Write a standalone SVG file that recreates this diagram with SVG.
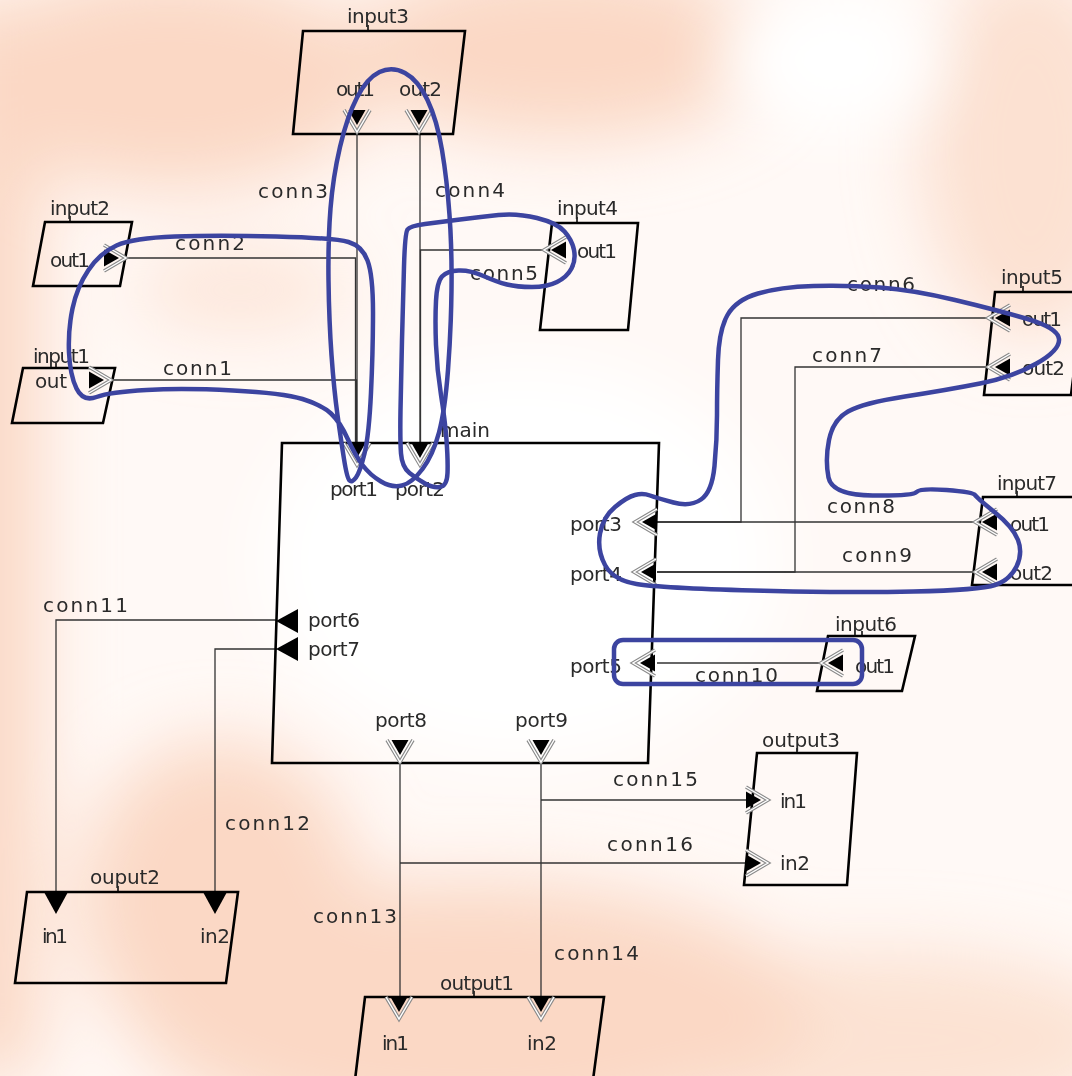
<svg xmlns="http://www.w3.org/2000/svg" xmlns:xlink="http://www.w3.org/1999/xlink" width="1072" height="1076" viewBox="0 0 1072 1076">
<defs>
<filter id="blur" x="-50%" y="-50%" width="200%" height="200%"><feGaussianBlur stdDeviation="35"/></filter>
<g id="pd">
<polyline points="-13,0 0,22 13,0" fill="none" stroke="#8a8a8a" stroke-width="3.6"/>
<polyline points="-13,0 0,22 13,0" fill="none" stroke="#ffffff" stroke-width="1.4"/>
<polygon points="-8.5,0 8.5,0 0,15" fill="#000"/>
</g>
<polygon id="ps" points="-12,0 12,0 0,22" fill="#000"/>
<style>
.box{fill:none;stroke:#000;stroke-width:2.6;stroke-linejoin:miter}
.tick{stroke:#000;stroke-width:1.5}
.lbl{font-family:"DejaVu Sans","Liberation Sans",sans-serif;font-size:20px;fill:#2a2a2a}
.wire{fill:none;stroke:#333;stroke-width:1.3}
.ink{fill:none;stroke:#3c44a0;stroke-width:4.5;stroke-linecap:round;stroke-linejoin:round}
</style>
</defs>

<g id="background">
<rect width="1072" height="1076" fill="#fff9f6"/>
<g filter="url(#blur)" fill="#fbd8c5">
<ellipse cx="170" cy="80" rx="210" ry="110"/>
<ellipse cx="560" cy="50" rx="210" ry="90"/>
<ellipse cx="1030" cy="150" rx="110" ry="190" opacity="0.75"/>
<rect x="-60" y="0" width="100" height="1076"/>
<ellipse cx="470" cy="1010" rx="340" ry="130"/>
<ellipse cx="880" cy="1040" rx="260" ry="90" opacity="0.7"/>
<ellipse cx="220" cy="900" rx="140" ry="160"/>
<ellipse cx="240" cy="290" rx="110" ry="40" opacity="0.6"/>
</g>
<g filter="url(#blur)" fill="#ffffff">
<ellipse cx="830" cy="60" rx="110" ry="70"/>
<ellipse cx="520" cy="560" rx="260" ry="200"/>
</g>
</g>

<g id="connectors">
<path id="conn1" class="wire" d="M112,380 H356.5 V443"/>
<path id="conn2" class="wire" d="M126,258 H355.5 V443"/>
<path id="conn3" class="wire" d="M357,134 V443"/>
<path id="conn4" class="wire" d="M420,134 V443"/>
<path id="conn5" class="wire" d="M544,250 H420.5 V443"/>
<path id="conn6" class="wire" d="M988,318 H741 V522 H657"/>
<path id="conn7" class="wire" d="M988,367 H795 V572 H657"/>
<path id="conn8" class="wire" d="M975,522 H657"/>
<path id="conn9" class="wire" d="M975,572 H657"/>
<path id="conn10" class="wire" d="M821,663 H657"/>
<path id="conn11" class="wire" d="M277,620 H56 V892"/>
<path id="conn12" class="wire" d="M277,649 H215 V892"/>
<path id="conn13" class="wire" d="M400,763 V997"/>
<path id="conn14" class="wire" d="M541,763 V997"/>
<path id="conn15" class="wire" d="M541,800 H746"/>
<path id="conn16" class="wire" d="M400,863 H746"/>
<text class="lbl" x="163" y="375" textLength="69" lengthAdjust="spacing">conn1</text>
<text class="lbl" x="175" y="250" textLength="70" lengthAdjust="spacing">conn2</text>
<text class="lbl" x="258" y="198" textLength="70" lengthAdjust="spacing">conn3</text>
<text class="lbl" x="435" y="197" textLength="70" lengthAdjust="spacing">conn4</text>
<text class="lbl" x="470" y="280" textLength="68" lengthAdjust="spacing">conn5</text>
<text class="lbl" x="847" y="291" textLength="68" lengthAdjust="spacing">conn6</text>
<text class="lbl" x="812" y="362" textLength="70" lengthAdjust="spacing">conn7</text>
<text class="lbl" x="827" y="513" textLength="68" lengthAdjust="spacing">conn8</text>
<text class="lbl" x="842" y="562" textLength="70" lengthAdjust="spacing">conn9</text>
<text class="lbl" x="695" y="682" textLength="83" lengthAdjust="spacing">conn10</text>
<text class="lbl" x="43" y="612" textLength="85" lengthAdjust="spacing">conn11</text>
<text class="lbl" x="225" y="830" textLength="85" lengthAdjust="spacing">conn12</text>
<text class="lbl" x="313" y="923" textLength="84" lengthAdjust="spacing">conn13</text>
<text class="lbl" x="554" y="960" textLength="85" lengthAdjust="spacing">conn14</text>
<text class="lbl" x="613" y="786" textLength="85" lengthAdjust="spacing">conn15</text>
<text class="lbl" x="607" y="851" textLength="86" lengthAdjust="spacing">conn16</text>
</g>

<g id="input3">
<polygon class="box" points="303,31 465,31 453,134 293,134"/>
<line class="tick" x1="368" y1="25" x2="368" y2="31"/>
<text class="lbl" x="347" y="23" textLength="62" lengthAdjust="spacing">input3</text>
<text class="lbl" x="336" y="96" textLength="39" lengthAdjust="spacing">out1</text>
<text class="lbl" x="399" y="96" textLength="43" lengthAdjust="spacing">out2</text>
<use xlink:href="#pd" transform="translate(357,110)"/>
<use xlink:href="#pd" transform="translate(419,110)"/>
</g>

<g id="input2">
<polygon class="box" points="45,222 132,222 120,286 33,286"/>
<line class="tick" x1="70" y1="216" x2="70" y2="222"/>
<text class="lbl" x="50" y="215" textLength="60" lengthAdjust="spacing">input2</text>
<text class="lbl" x="50" y="267" textLength="40" lengthAdjust="spacing">out1</text>
<use xlink:href="#pd" transform="translate(104,258) rotate(-90)"/>
</g>

<g id="input1">
<polygon class="box" points="23,368 115,368 103,423 12,423"/>
<line class="tick" x1="56" y1="363" x2="56" y2="368"/>
<text class="lbl" x="33" y="363" textLength="57" lengthAdjust="spacing">input1</text>
<text class="lbl" x="35" y="388" textLength="32" lengthAdjust="spacing">out</text>
<use xlink:href="#pd" transform="translate(89,380) rotate(-90)"/>
</g>

<g id="input4">
<polygon class="box" points="552,223 638,223 628,330 540,330"/>
<line class="tick" x1="577" y1="217" x2="577" y2="223"/>
<text class="lbl" x="557" y="215" textLength="61" lengthAdjust="spacing">input4</text>
<text class="lbl" x="577" y="258" textLength="40" lengthAdjust="spacing">out1</text>
<use xlink:href="#pd" transform="translate(566,250) rotate(90)"/>
</g>

<g id="input5">
<polygon class="box" points="995,292 1084,292 1071,395 984,395"/>
<line class="tick" x1="1023" y1="286" x2="1023" y2="292"/>
<text class="lbl" x="1001" y="284" textLength="62" lengthAdjust="spacing">input5</text>
<text class="lbl" x="1022" y="326" textLength="40" lengthAdjust="spacing">out1</text>
<text class="lbl" x="1022" y="375" textLength="43" lengthAdjust="spacing">out2</text>
<use xlink:href="#pd" transform="translate(1010,318) rotate(90)"/>
<use xlink:href="#pd" transform="translate(1010,367) rotate(90)"/>
</g>

<g id="input7">
<polygon class="box" points="983,497 1086,497 1076,585 972,585"/>
<line class="tick" x1="1017" y1="491" x2="1017" y2="497"/>
<text class="lbl" x="997" y="490" textLength="60" lengthAdjust="spacing">input7</text>
<text class="lbl" x="1010" y="531" textLength="40" lengthAdjust="spacing">out1</text>
<text class="lbl" x="1010" y="580" textLength="43" lengthAdjust="spacing">out2</text>
<use xlink:href="#pd" transform="translate(997,522) rotate(90)"/>
<use xlink:href="#pd" transform="translate(997,572) rotate(90)"/>
</g>

<g id="input6">
<polygon class="box" points="828,636 915,636 902,691 817,691"/>
<line class="tick" x1="862" y1="631" x2="862" y2="636"/>
<text class="lbl" x="835" y="631" textLength="62" lengthAdjust="spacing">input6</text>
<text class="lbl" x="855" y="673" textLength="40" lengthAdjust="spacing">out1</text>
<use xlink:href="#pd" transform="translate(843,663) rotate(90)"/>
</g>

<g id="main">
<polygon class="box" points="282,443 659,443 648,763 272,763"/>
<text class="lbl" x="440" y="437" textLength="50" lengthAdjust="spacing">main</text>
<use xlink:href="#pd" transform="translate(357,443)"/>
<use xlink:href="#pd" transform="translate(420,443)"/>
<text class="lbl" x="330" y="496" textLength="48" lengthAdjust="spacing">port1</text>
<text class="lbl" x="395" y="496" textLength="50" lengthAdjust="spacing">port2</text>
<use xlink:href="#pd" transform="translate(657,522) rotate(90)"/>
<use xlink:href="#pd" transform="translate(656,572) rotate(90)"/>
<use xlink:href="#pd" transform="translate(655,663) rotate(90)"/>
<text class="lbl" x="570" y="531" textLength="52" lengthAdjust="spacing">port3</text>
<text class="lbl" x="570" y="581" textLength="52" lengthAdjust="spacing">port4</text>
<text class="lbl" x="570" y="673" textLength="52" lengthAdjust="spacing">port5</text>
<use xlink:href="#ps" transform="translate(298,621) rotate(90)"/>
<use xlink:href="#ps" transform="translate(298,649) rotate(90)"/>
<text class="lbl" x="308" y="627" textLength="52" lengthAdjust="spacing">port6</text>
<text class="lbl" x="308" y="656" textLength="52" lengthAdjust="spacing">port7</text>
<use xlink:href="#pd" transform="translate(400,740)"/>
<use xlink:href="#pd" transform="translate(541,740)"/>
<text class="lbl" x="375" y="727" textLength="52" lengthAdjust="spacing">port8</text>
<text class="lbl" x="515" y="727" textLength="53" lengthAdjust="spacing">port9</text>
</g>

<g id="ouput2">
<polygon class="box" points="27,892 238,892 226,983 15,983"/>
<line class="tick" x1="118" y1="886" x2="118" y2="892"/>
<text class="lbl" x="90" y="884" textLength="70" lengthAdjust="spacing">ouput2</text>
<use xlink:href="#ps" transform="translate(56,892)"/>
<use xlink:href="#ps" transform="translate(215,892)"/>
<text class="lbl" x="42" y="943" textLength="26" lengthAdjust="spacing">in1</text>
<text class="lbl" x="200" y="943" textLength="30" lengthAdjust="spacing">in2</text>
</g>

<g id="output1">
<polygon class="box" points="365,997 604,997 593,1080 355,1080"/>
<line class="tick" x1="474" y1="991" x2="474" y2="997"/>
<text class="lbl" x="440" y="990" textLength="74" lengthAdjust="spacing">output1</text>
<use xlink:href="#pd" transform="translate(399,997)"/>
<use xlink:href="#pd" transform="translate(541,997)"/>
<text class="lbl" x="382" y="1050" textLength="27" lengthAdjust="spacing">in1</text>
<text class="lbl" x="527" y="1050" textLength="30" lengthAdjust="spacing">in2</text>
</g>

<g id="output3">
<polygon class="box" points="757,753 857,753 847,885 744,885"/>
<line class="tick" x1="797" y1="748" x2="797" y2="753"/>
<text class="lbl" x="762" y="747" textLength="78" lengthAdjust="spacing">output3</text>
<use xlink:href="#pd" transform="translate(746,800) rotate(-90)"/>
<use xlink:href="#pd" transform="translate(746,863) rotate(-90)"/>
<text class="lbl" x="780" y="808" textLength="27" lengthAdjust="spacing">in1</text>
<text class="lbl" x="780" y="870" textLength="30" lengthAdjust="spacing">in2</text>
</g>

<g id="annotations">
<path class="ink" d="M76.5,388.5 Q83,402 96.5,397 Q110,392 146.5,390 Q183,388 233,390.5 Q283,393 302.5,399 Q322,405 331,413.5 Q340,422 347.5,438.5 Q355,455 362.5,465 Q370,475 381,481.5 Q392,488 402,485.5 Q412,483 422.5,469 Q433,455 439,432.5 Q445,410 448,370 Q451,330 451.5,290 Q452,250 449.5,215 Q447,180 442,150 Q437,120 427.5,100 Q418,80 405,73 Q392,66 379.5,72 Q367,78 357,97.5 Q347,117 340,147 Q333,177 330.5,208.5 Q328,240 328.5,280 Q329,320 331.5,355 Q334,390 337.5,415 Q341,440 344,459 Q347,478 349.5,480.5 Q352,483 356,477.5 Q360,472 364.5,453.5 Q369,435 371,392.5 Q373,350 373,312.5 Q373,275 367.5,260.5 Q362,246 348.5,242 Q335,238 276,236.5 Q217,235 175,236.5 Q133,238 116.5,245.5 Q100,253 88.5,270 Q77,287 72.5,308.5 Q68,330 69,352.5 Q70,375 76.5,388.5 Z"/>
<path class="ink" d="M407.5,229.5 Q405,233 404,266.5 Q403,300 402,340 Q401,380 400.5,410 Q400,440 401,453.5 Q402,467 409.5,473 Q417,479 425,483.5 Q433,488 440,487 Q447,486 447.5,473 Q448,460 446.5,440 Q445,420 441,395 Q437,370 436,345 Q435,320 436,301 Q437,282 442,276.5 Q447,271 458.5,270.5 Q470,270 483.5,276 Q497,282 507,284.5 Q517,287 532,287 Q547,287 557,282 Q567,277 571.5,268.5 Q576,260 574,250 Q572,240 564.5,231.5 Q557,223 537,218 Q517,213 498.5,215 Q480,217 460,219.5 Q440,222 425,224 Q410,226 407.5,229.5 Z"/>
<path class="ink" d="M650,495.5 Q657,498 673.5,502.5 Q690,507 701,499.5 Q712,492 714.5,466 Q717,440 717,415 Q717,390 718,360 Q719,330 727.5,315 Q736,300 758,293.5 Q780,287 813.5,286 Q847,285 880,287.5 Q913,290 955,300 Q997,310 1027.5,319 Q1058,328 1059,339 Q1060,350 1036.5,363.5 Q1013,377 980,383.5 Q947,390 905,396.5 Q863,403 848,411.5 Q833,420 829,440 Q825,460 828.5,477.5 Q832,495 872.5,495.5 Q913,496 916.5,492 Q920,488 946.5,490 Q973,492 975,495 Q977,498 995,512.5 Q1013,527 1018,540 Q1023,553 1016.5,566.5 Q1010,580 995,585 Q980,590 913.5,591.5 Q847,593 753.5,590.5 Q660,588 636.5,584 Q613,580 605,565 Q597,550 600,533.5 Q603,517 615,507 Q627,497 635,495 Q643,493 650,495.5 Z"/>
<rect class="ink" x="614" y="640" width="248" height="44" rx="9"/>
</g>
</svg>
